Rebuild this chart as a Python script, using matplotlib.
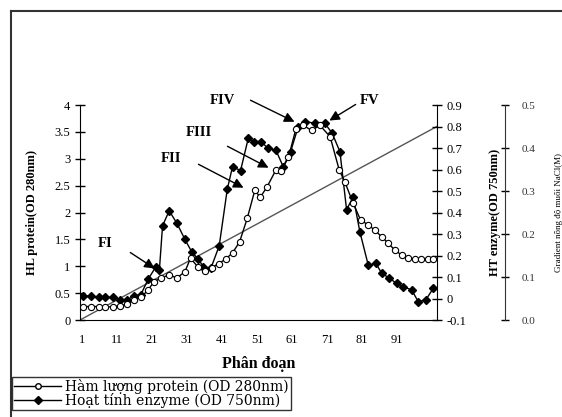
import matplotlib
matplotlib.use("Agg")
import matplotlib.pyplot as plt
from matplotlib.lines import Line2D
from matplotlib.patches import FancyArrowPatch

plt.rcParams['font.family'] = ['Liberation Serif', 'DejaVu Serif']

# fraction numbers and protein content (OD 280nm)
fr_protein = [1.4, 3.5, 5.7, 7.6, 9.8, 11.9, 13.9, 15.9, 17.8, 19.9, 21.5, 23.5,
              25.9, 28.1, 30.4, 32.0, 34.2, 36.0, 38.0, 40.0, 42.0, 44.0, 46.0,
              48.2, 50.4, 51.9, 53.9, 56.4, 58.0, 60.0, 62.1, 64.2, 66.6, 69.0,
              71.9, 74.5, 76.1, 78.5, 80.6, 82.8, 84.7, 86.6, 88.5, 90.4, 92.3,
              94.2, 96.1, 98.0, 99.9, 101.3]
protein = [0.25, 0.25, 0.25, 0.24, 0.25, 0.26, 0.30, 0.37, 0.42, 0.56, 0.71, 0.78,
           0.84, 0.78, 0.90, 1.15, 0.98, 0.92, 0.97, 1.05, 1.13, 1.25, 1.45,
           1.89, 2.42, 2.28, 2.48, 2.79, 2.78, 3.03, 3.55, 3.62, 3.53, 3.62,
           3.41, 2.79, 2.57, 2.17, 1.86, 1.77, 1.67, 1.55, 1.43, 1.30, 1.21,
           1.15, 1.13, 1.13, 1.13, 1.13]

# fraction numbers and enzyme activity (OD 750nm)
fr_enzyme = [1.4, 3.5, 5.7, 7.6, 9.8, 11.9, 13.9, 15.9, 17.8, 19.9, 22.1, 23.1,
             24.0, 25.9, 28.1, 30.4, 32.3, 34.2, 35.7, 37.8, 40.2, 42.5, 44.0,
             46.3, 48.5, 50.2, 52.1, 54.2, 56.4, 58.5, 60.6, 62.8, 64.7, 67.6,
             70.4, 72.5, 74.7, 76.6, 78.5, 80.4, 82.8, 85.0, 86.6, 88.8, 90.9,
             92.8, 95.2, 97.1, 99.3, 101.4]
enzyme = [0.012, 0.012, 0.005, 0.005, 0.005, -0.005, -0.005, 0.012, 0.018, 0.090,
          0.148, 0.133, 0.338, 0.408, 0.350, 0.275, 0.218, 0.183, 0.148, 0.140,
          0.245, 0.508, 0.613, 0.595, 0.745, 0.730, 0.730, 0.698, 0.690, 0.613,
          0.683, 0.800, 0.823, 0.815, 0.815, 0.768, 0.683, 0.413, 0.473, 0.310,
          0.155, 0.163, 0.118, 0.095, 0.070, 0.055, 0.040, -0.015, -0.005, 0.048]

# NaCl gradient (M), linear from start to end of the elution
fr_nacl = [0.4, 102.4]
nacl = [0.0, 0.45]

xtick_pos = [1, 11, 21, 31, 41, 51, 61, 71, 81, 91]

W, H = 562, 417


def fx(px):
    return px / W


def fy(py):
    return 1 - py / H


fig = plt.figure(figsize=(W / 100, H / 100), dpi=100)
ax = fig.add_axes([0.1423, 0.2326, 0.635, 0.5156])

# gradient axis on the far right
ax3 = ax.twinx()
ax3.spines['right'].set_position(('axes', 1.19))
ax3.plot(fr_nacl, nacl, color='#555555', lw=1.0)
ax3.set_ylim(0, 0.5)
ax3.set_yticks([0, 0.1, 0.2, 0.3, 0.4, 0.5])
ax3.set_yticklabels(['0.0', '0.1', '0.2', '0.3', '0.4', '0.5'], fontsize=8, color='#333333')
ax3.tick_params(axis='y', direction='inout', length=6, width=1, pad=9)
for s in ['top', 'left', 'bottom']:
    ax3.spines[s].set_visible(False)
ax3.spines['right'].set_color('#333333')
ax3.set_ylabel('Gradient nồng độ muối NaCl(M)', fontsize=6.5, labelpad=14)

# enzyme axis
ax2 = ax.twinx()
ax2.plot(fr_enzyme, enzyme, color='black', lw=1.0, marker='D', markersize=4,
         markerfacecolor='black', markeredgecolor='black')
ax2.set_ylim(-0.1, 0.9)
ax2.set_yticks([-0.1, 0, 0.1, 0.2, 0.3, 0.4, 0.5, 0.6, 0.7, 0.8, 0.9])
ax2.set_yticklabels(['-0.1', '0', '0.1', '0.2', '0.3', '0.4', '0.5', '0.6', '0.7', '0.8', '0.9'],
                    fontsize=9)
ax2.tick_params(axis='y', direction='inout', length=7, width=1)
for s in ['top', 'left', 'bottom']:
    ax2.spines[s].set_visible(False)
ax2.set_ylabel('HT enzyme(OD 750nm)', fontsize=9, fontweight='bold', labelpad=16)

# protein axis
ax.plot(fr_protein, protein, color='black', lw=1.0, marker='o', markersize=4.5,
        markerfacecolor='white', markeredgecolor='black', markeredgewidth=0.8)
ax.set_ylim(0, 4)
ax.set_xlim(0.4, 102.4)
ax.set_yticks([0, 0.5, 1, 1.5, 2, 2.5, 3, 3.5, 4])
ax.set_yticklabels(['0', '0.5', '1', '1.5', '2', '2.5', '3', '3.5', '4'], fontsize=9)
ax.set_xticks(xtick_pos)
ax.set_xticklabels([str(v) for v in xtick_pos], fontsize=9)
ax.tick_params(axis='y', direction='inout', length=7, width=1)
ax.tick_params(axis='x', length=0, pad=10)
ax.spines['top'].set_visible(False)
ax.spines['right'].set_visible(False)
ax.set_ylabel('HL protein(OD 280nm)', fontsize=9, fontweight='bold', labelpad=12)
ax.set_xlabel('Phân đoạn', fontsize=11.5, fontweight='bold', labelpad=7)
ax.set_zorder(ax2.get_zorder() + 1)
ax.patch.set_visible(False)

# fraction labels with arrows
peaks = [('FI', (98, 243), (128, 251), (157, 270)),
         ('FII', (161, 158), (196, 163), (246, 189)),
         ('FIII', (186, 133), (225, 145), (271, 169)),
         ('FIV', (210, 100), (248, 99), (297, 123)),
         ('FV', (360, 100), (358, 103), (327, 122))]
for name, tpos, start, end in peaks:
    fig.text(fx(tpos[0]), fy(tpos[1]), name, fontsize=10.5,
             fontweight='bold', ha='left', va='center')
    fig.add_artist(FancyArrowPatch((fx(start[0]), fy(start[1])), (fx(end[0]), fy(end[1])),
                                   transform=fig.transFigure, arrowstyle='-|>',
                                   color='black', lw=1.0, mutation_scale=15))

# outer frame
fig.add_artist(Line2D([fx(11), fx(11)], [0, fy(11)], color='#333333', lw=1.5,
                      transform=fig.transFigure))
fig.add_artist(Line2D([fx(11), 1], [fy(11), fy(11)], color='#333333', lw=1.5,
                      transform=fig.transFigure))

# legend
handles = [Line2D([], [], color='black', lw=1, marker='o', markersize=4,
                  markerfacecolor='white'),
           Line2D([], [], color='black', lw=1, marker='D', markersize=4)]
fig.legend(handles, ['Hàm lượng protein (OD 280nm)', 'Hoạt tính enzyme (OD 750nm)'],
           loc='upper left', bbox_to_anchor=(fx(12), fy(377)),
           prop={'family': 'DejaVu Serif', 'size': 10}, frameon=True, fancybox=False,
           edgecolor='black', borderpad=0.15, labelspacing=-0.1, handlelength=3.4,
           handletextpad=0.3, borderaxespad=0)

fig.savefig('out.png', dpi=100)
